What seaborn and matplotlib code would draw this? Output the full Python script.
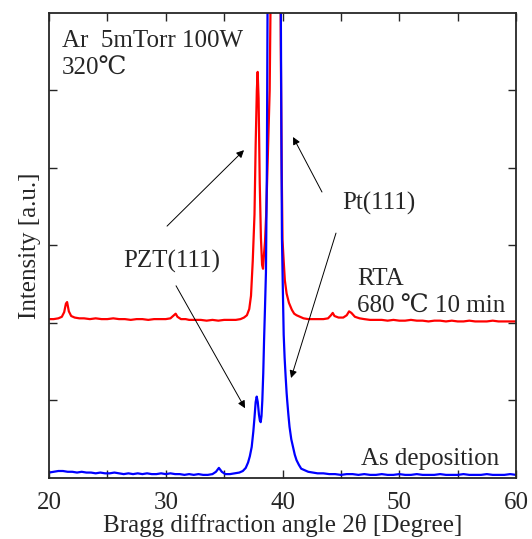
import numpy as np
import pandas as pd
import matplotlib
matplotlib.use('Agg')
from matplotlib import pyplot as plt
import seaborn as sns

# as deposition (blue)
blue_angle = [20.0, 20.4, 20.8, 21.2, 21.6, 22.0, 22.4, 22.8, 23.2, 23.6,
              24.0, 24.4, 24.8, 25.2, 25.6, 26.0, 26.4, 26.8, 27.2, 27.6,
              28.0, 28.4, 28.8, 29.2, 29.6, 30.0, 30.4, 30.8, 31.2, 31.6,
              32.0, 32.4, 32.8, 33.2, 33.6, 34.0, 34.3, 34.55, 34.8, 35.1,
              35.5, 35.9, 36.3, 36.6, 36.85, 37.05, 37.2, 37.36, 37.5, 37.6,
              37.7, 37.79, 37.88, 37.98, 38.06, 38.13, 38.2, 38.27, 38.35, 38.42,
              38.5, 38.58, 38.66, 38.73, 38.8, 39.0, 39.2, 39.4, 39.6, 39.8,
              39.9, 39.95, 40.02, 40.1, 40.18, 40.27, 40.35, 40.4, 40.5, 40.6,
              40.75, 40.9, 41.05, 41.2, 41.4, 41.6, 41.9, 42.2, 42.6, 43.0,
              43.5, 44.0, 44.5, 45.0, 45.5, 46.0, 46.5, 47.0, 47.5, 48.0,
              48.5, 49.0, 49.5, 50.0, 50.5, 51.0, 51.5, 52.0, 52.5, 53.0,
              53.5, 54.0, 54.5, 55.0, 55.5, 56.0, 56.5, 57.0, 57.5, 58.0,
              58.5, 59.0, 59.5, 60.0]
blue_int = [0.07, 0.08, 0.09, 0.09, 0.08, 0.08, 0.07, 0.08, 0.07, 0.07,
            0.06, 0.07, 0.06, 0.06, 0.07, 0.06, 0.05, 0.06, 0.05, 0.06,
            0.05, 0.06, 0.05, 0.05, 0.06, 0.05, 0.06, 0.05, 0.05, 0.04,
            0.05, 0.04, 0.05, 0.04, 0.04, 0.05, 0.08, 0.13, 0.08, 0.05,
            0.05, 0.06, 0.07, 0.09, 0.13, 0.20, 0.28, 0.40, 0.60, 0.78,
            0.98, 1.05, 0.98, 0.82, 0.74, 0.72, 0.80, 1.00, 1.35, 1.78,
            2.20, 2.65, 4.00, 6.50, 9.00, 14.0, 16.0, 15.0, 12.0, 8.00,
            4.50, 3.10, 2.50, 1.85, 1.55, 1.30, 1.10, 1.00, 0.82, 0.66,
            0.50, 0.40, 0.30, 0.23, 0.17, 0.12, 0.10, 0.08, 0.07, 0.06,
            0.06, 0.05, 0.05, 0.04, 0.05, 0.05, 0.04, 0.05, 0.04, 0.04,
            0.05, 0.04, 0.04, 0.05, 0.04, 0.04, 0.05, 0.04, 0.04, 0.04,
            0.05, 0.04, 0.04, 0.04, 0.05, 0.04, 0.04, 0.04, 0.05, 0.04,
            0.04, 0.04, 0.05, 0.04]

# RTA 680 C 10 min (red)
red_angle = [20.0, 20.4, 20.8, 21.1, 21.3, 21.45, 21.55, 21.7, 21.9, 22.2,
             22.6, 23.0, 23.5, 24.0, 24.5, 25.0, 25.5, 26.0, 26.5, 27.0,
             27.5, 28.0, 28.5, 29.0, 29.5, 30.0, 30.4, 30.7, 30.85, 31.0,
             31.3, 31.7, 32.0, 32.5, 33.0, 33.5, 34.0, 34.5, 35.0, 35.5,
             36.0, 36.4, 36.7, 36.95, 37.15, 37.3, 37.45, 37.6, 37.7, 37.8,
             37.87, 37.95, 38.05, 38.15, 38.25, 38.33, 38.42, 38.5, 38.6, 38.75,
             38.9, 39.0, 39.1, 39.3, 39.5, 39.7, 39.8, 39.85, 39.93, 40.0,
             40.1, 40.2, 40.35, 40.55, 40.8, 41.0, 41.2, 41.5, 41.8, 42.2,
             42.6, 43.0, 43.5, 43.9, 44.15, 44.3, 44.45, 44.8, 45.2, 45.5,
             45.7, 45.9, 46.2, 46.6, 47.0, 47.5, 48.0, 48.5, 49.0, 49.5,
             50.0, 50.5, 51.0, 51.5, 52.0, 52.5, 53.0, 53.5, 54.0, 54.5,
             55.0, 55.5, 56.0, 56.5, 57.0, 57.5, 58.0, 58.5, 59.0, 59.5,
             60.0]
red_int = [2.05, 2.05, 2.06, 2.08, 2.14, 2.25, 2.27, 2.15, 2.09, 2.07,
           2.06, 2.06, 2.05, 2.06, 2.05, 2.05, 2.06, 2.05, 2.05, 2.04,
           2.05, 2.05, 2.04, 2.05, 2.05, 2.05, 2.06, 2.10, 2.12, 2.08,
           2.05, 2.05, 2.04, 2.04, 2.04, 2.03, 2.04, 2.03, 2.04, 2.04,
           2.04, 2.05, 2.07, 2.10, 2.18, 2.35, 2.80, 3.40, 4.30, 5.00,
           5.24, 4.90, 3.80, 3.10, 2.75, 2.70, 2.90, 3.05, 3.40, 4.20,
           5.00, 6.50, 10.0, 16.0, 18.0, 14.0, 8.00, 5.60, 4.00, 3.07,
           2.80, 2.55, 2.38, 2.26, 2.17, 2.12, 2.10, 2.08, 2.06, 2.05,
           2.05, 2.05, 2.05, 2.06, 2.10, 2.13, 2.09, 2.07, 2.07, 2.10,
           2.15, 2.13, 2.08, 2.06, 2.05, 2.04, 2.04, 2.04, 2.03, 2.04,
           2.03, 2.03, 2.04, 2.03, 2.03, 2.02, 2.03, 2.03, 2.02, 2.03,
           2.02, 2.02, 2.03, 2.02, 2.02, 2.02, 2.03, 2.02, 2.02, 2.02,
           2.02]

sns.set_style('ticks')
serif = ['Liberation Serif', 'DejaVu Serif', 'Noto Sans CJK JP']
plt.rcParams['font.family'] = serif
plt.rcParams['mathtext.fontset'] = 'stix'

red_df = pd.DataFrame({'angle': red_angle, 'intensity': red_int})
blue_df = pd.DataFrame({'angle': blue_angle, 'intensity': blue_int})

fig = plt.figure(figsize=(5.32, 5.39), dpi=100)
ax = fig.add_axes([0.0921, 0.1132, 0.8779, 0.8627])

sns.lineplot(data=red_df, x='angle', y='intensity', color='#ff0000',
             linewidth=1.6, ax=ax)
sns.lineplot(data=blue_df, x='angle', y='intensity', color='#0000ff',
             linewidth=1.6, ax=ax)

ax.set_xlim(20, 60)
ax.set_ylim(0, 6)
ax.set_xticks([20, 30, 40, 50, 60])
ax.set_xticks([25, 35, 45, 55], minor=True)
ax.set_yticks([1, 2, 3, 4, 5])
ax.set_yticklabels([])
ax.tick_params(which='both', direction='in', top=True, right=True,
               length=6, width=1.0, labelsize=18)
ax.tick_params(axis='x', pad=10)
for sp in ax.spines.values():
    sp.set_linewidth(1.3)

ax.set_xlabel('Bragg diffraction angle 2θ [Degree]', fontsize=18, labelpad=0)
ax.set_ylabel('Intensity [a.u.]', fontsize=18, labelpad=2)

fs = 18
ax.text(21.1, 5.56, 'Ar  5mTorr 100W', fontsize=fs, va='baseline')
ax.text(21.1, 5.2, '320℃', fontsize=fs, va='baseline')
ax.text(26.34, 2.71, 'PZT(111)', fontsize=fs, va='baseline')
ax.text(45.15, 3.46, 'Pt(111)', fontsize=fs, va='baseline')
ax.text(46.38, 2.49, 'RTA', fontsize=fs, va='baseline')
ax.text(46.35, 2.13, '680 ℃ 10 min', fontsize=fs, va='baseline')
ax.text(46.72, 0.17, 'As deposition', fontsize=fs, va='baseline')

arrows = [((30.11, 3.25), (36.70, 4.23)),
          ((30.88, 2.48), (36.79, 0.90)),
          ((43.38, 3.69), (40.90, 4.40)),
          ((44.58, 3.16), (40.73, 1.29))]
for tail, head in arrows:
    ax.annotate('', xy=head, xytext=tail,
                arrowprops=dict(arrowstyle='-|>', color='black', lw=0.7,
                                mutation_scale=11, shrinkA=0, shrinkB=0))

plt.savefig('out.png', dpi=100)
